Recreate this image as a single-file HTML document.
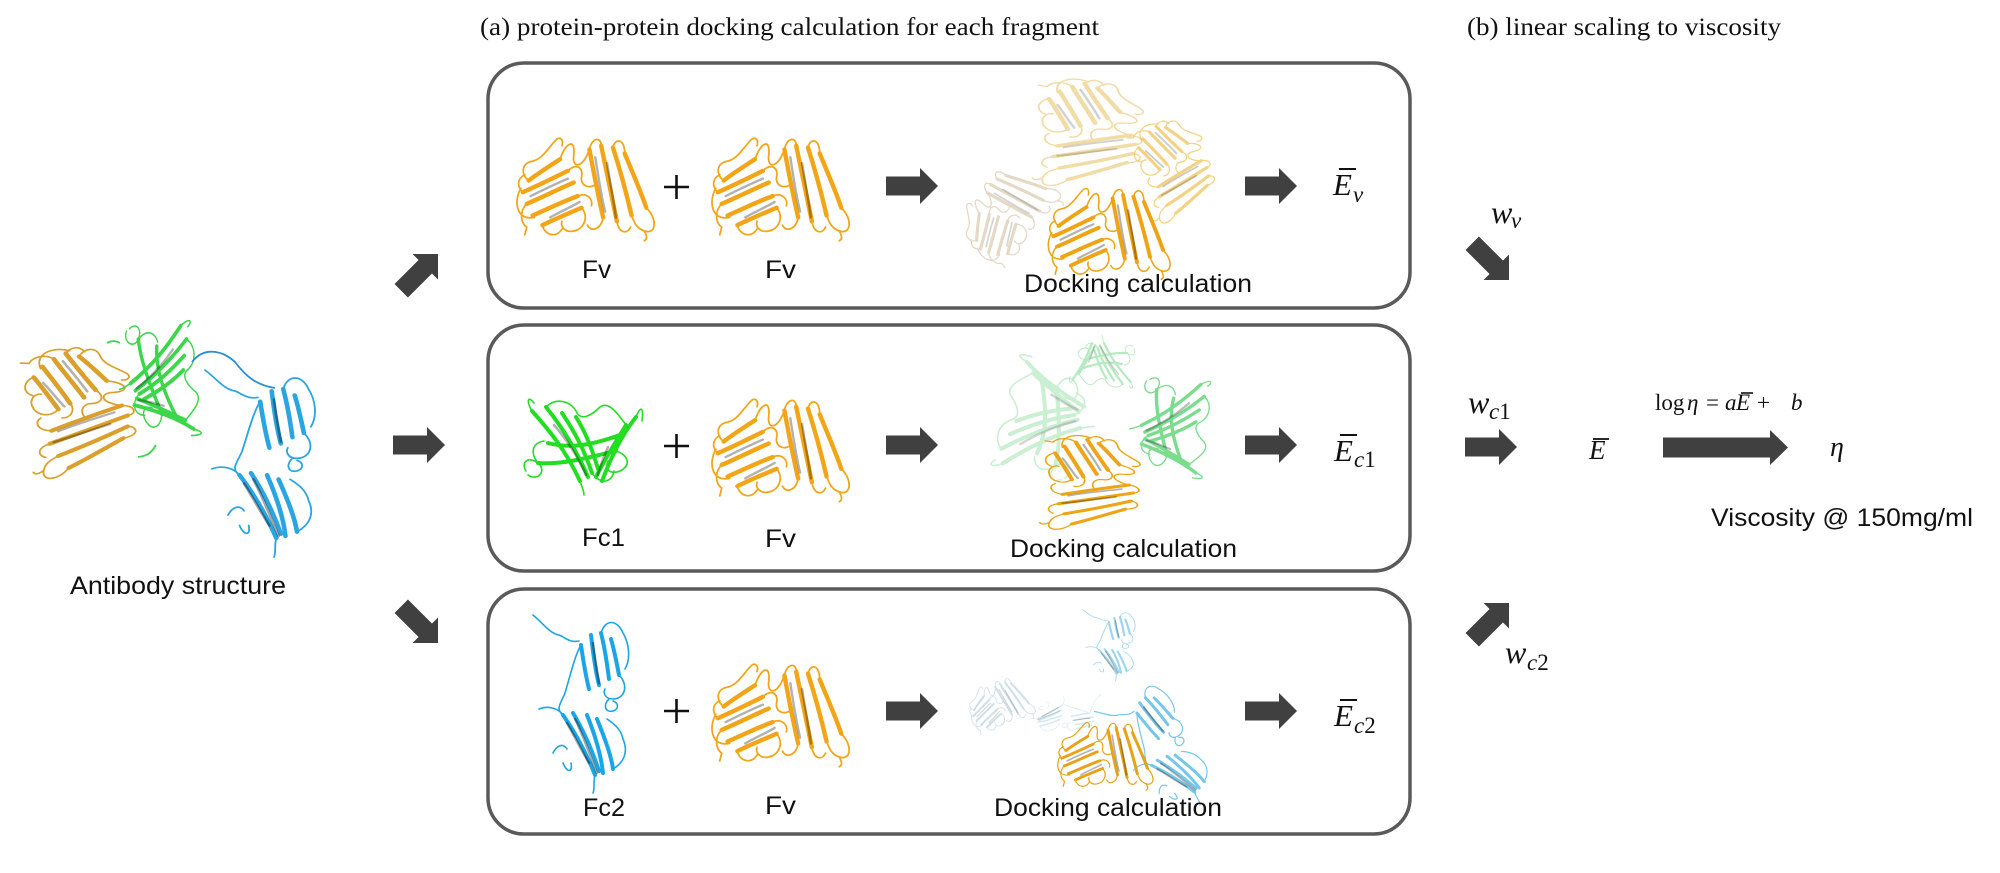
<!DOCTYPE html>
<html>
<head>
<meta charset="utf-8">
<style>
  html,body{margin:0;padding:0;background:#fff;}
  svg{display:block;}
  .sans{font-family:"Liberation Sans",Arial,sans-serif;fill:#111;}
  .serif{font-family:"Liberation Serif","Times New Roman",serif;fill:#111;}
  .it{font-style:italic;}
</style>
</head>
<body>
<svg width="2000" height="873" viewBox="0 0 2000 873" xmlns="http://www.w3.org/2000/svg">
<defs>
  <path id="ar" d="M0,-9.5H34V-18L52,0L34,18V9.5H0Z"/>
  <!-- Fv fragment (150x110) -->
  <g id="fv" fill="none" stroke="currentColor" stroke-linecap="round" stroke-linejoin="round">
    <path stroke-width="4.5" d="M16,48 C26,40 36,34 48,26 M10,60 C24,54 40,46 56,38 M14,72 C28,66 44,58 62,50 M20,84 C34,78 50,70 66,64 M30,94 C42,88 56,82 70,76 M78,16 C82,38 86,60 92,86 M90,12 C95,36 100,60 106,90 M102,14 C109,36 115,58 121,84 M114,20 C122,40 130,58 136,76"/>
    <path stroke-width="1.8" d="M48,26 C54,8 64,4 62,22 C60,34 70,38 78,16 M8,56 C0,70 4,90 22,86 M16,48 C8,42 8,30 20,28 C30,26 36,14 44,6 C48,2 52,6 50,12 M30,94 C32,104 44,108 50,98 M70,76 C78,86 72,98 62,100 C54,102 48,96 50,90 M78,16 C80,4 90,2 90,12 M102,14 C104,4 114,4 114,20 M136,76 C148,88 146,104 134,100 C126,97 124,92 121,84 M106,90 C108,102 116,104 120,96 M92,86 C90,98 80,102 76,94 M134,100 C136,104 138,108 134,110 M56,38 C64,30 72,34 70,44 C68,54 80,58 86,50 M10,60 C4,54 4,46 12,42 M14,72 C6,80 8,92 14,96 L12,104 M66,64 C74,60 82,66 80,74"/>
    <path stroke="#000" stroke-opacity=".3" stroke-width="2.5" d="M18,64 C30,58 42,52 56,46 M96,30 C99,50 103,70 105,86 M38,86 C48,80 58,76 68,70 M84,24 C87,44 90,64 94,80"/>
  </g>
  <!-- Fc1 fragment (125x100) -->
  <g id="fc1" fill="none" stroke="currentColor" stroke-linecap="round" stroke-linejoin="round">
    <path stroke-width="4" d="M12,16 C30,36 46,56 60,86 M26,12 C42,32 56,54 68,82 M42,18 C54,36 64,54 72,78 M106,30 C96,46 86,62 76,82 M116,22 C102,40 92,60 82,86 M28,48 C50,54 72,50 100,40 M18,68 C44,70 70,62 96,56 M56,22 C66,38 72,54 78,74"/>
    <path stroke-width="1.6" d="M12,16 C6,6 8,0 14,8 M6,76 C0,66 10,60 20,70 C26,78 16,86 8,80 M60,86 C62,92 64,96 64,100 M116,22 C120,12 124,10 122,26 M26,12 C36,2 50,6 56,16 C60,26 70,22 80,12 C88,6 96,16 106,30 M72,78 C80,90 92,88 94,76 M96,56 C108,60 112,70 100,76 C90,80 84,74 88,66 M18,68 C10,58 12,48 24,46"/>
    <path stroke="#000" stroke-opacity=".3" stroke-width="2.5" d="M34,30 C48,46 58,62 66,80 M88,52 C84,62 80,70 78,80"/>
  </g>
  <!-- Fc2 fragment (100x180) -->
  <g id="fc2" fill="none" stroke="currentColor" stroke-linecap="round" stroke-linejoin="round">
    <path stroke-width="4" d="M48,32 C50,46 52,60 56,76 M58,22 C60,40 62,56 66,72 M68,20 C72,36 74,50 76,66 M78,26 C82,40 84,52 86,62 M30,102 C44,122 54,142 62,162 M40,100 C52,120 60,140 66,158 M54,102 C62,122 68,142 70,160 M64,106 C72,126 78,142 80,156"/>
    <path stroke-width="1.6" d="M0,2 C10,10 16,20 26,22 C32,24 36,30 46,28 M48,32 C42,42 38,60 32,80 C28,90 22,96 30,102 M6,96 C16,92 26,96 30,102 M86,62 C96,72 92,86 80,86 C72,86 70,80 72,76 M68,20 C72,6 84,6 90,20 C96,30 98,46 92,56 M76,86 C70,92 72,100 80,98 C86,96 86,90 80,88 M62,162 C60,170 62,176 60,180 M80,156 C90,150 96,140 90,126 C88,116 80,110 74,106 M30,150 C34,160 40,160 38,150 M20,140 C24,132 30,130 34,136"/>
    <path stroke="#000" stroke-opacity=".35" stroke-width="2.5" d="M42,106 C52,126 58,146 64,160 M60,30 C62,46 64,58 66,70 M34,110 C44,128 50,140 56,150"/>
  </g>
</defs>

<rect width="2000" height="873" fill="#fff"/>

<!-- Titles -->
<text class="serif" x="480" y="35" font-size="25" textLength="619" lengthAdjust="spacingAndGlyphs">(a) protein-protein docking calculation for each fragment</text>
<text class="serif" x="1467" y="35" font-size="25" textLength="314" lengthAdjust="spacingAndGlyphs">(b) linear scaling to viscosity</text>

<!-- Boxes -->
<g fill="none" stroke="#5a5a5a" stroke-width="3.5">
  <rect x="488" y="63" width="922" height="245" rx="36"/>
  <rect x="488" y="325" width="922" height="246" rx="36"/>
  <rect x="488" y="589" width="922" height="245" rx="36"/>
</g>

<!-- Antibody structure -->
<g>
  <use href="#fv" style="color:#DBA02C" transform="translate(81,410) rotate(80) scale(0.9,1.05) translate(-75,-55)"/>
  <use href="#fc1" style="color:#3CD64A" transform="translate(161,380) rotate(80) scale(1.0,0.85) translate(-62,-50)"/>
  <use href="#fc2" style="color:#2AA5E2" transform="translate(205,368) scale(1.15,1.05)"/>
  <path d="M107,343 C112,340 116,341 120,343 M156,445 C152,452 148,456 138,457" fill="none" stroke="#3CD64A" stroke-width="1.8"/>
  <path d="M192,362 C205,345 225,352 235,362 C245,375 255,385 275,388" fill="none" stroke="#2A8FD0" stroke-width="1.8"/>
</g>
<text class="sans" x="70" y="594" font-size="25" textLength="216" lengthAdjust="spacingAndGlyphs">Antibody structure</text>

<!-- Arrows -->
<g fill="#404040">
  <use href="#ar" transform="translate(438,254) rotate(-45) translate(-52,0)"/>
  <use href="#ar" transform="translate(393,445)"/>
  <use href="#ar" transform="translate(438,643) rotate(45) translate(-52,0)"/>
  <use href="#ar" transform="translate(886,186)"/>
  <use href="#ar" transform="translate(1245,186)"/>
  <use href="#ar" transform="translate(886,445)"/>
  <use href="#ar" transform="translate(1245,445)"/>
  <use href="#ar" transform="translate(886,711)"/>
  <use href="#ar" transform="translate(1245,711)"/>
  <use href="#ar" transform="translate(1509,280) rotate(45) translate(-52,0)"/>
  <use href="#ar" transform="translate(1465,447)"/>
  <use href="#ar" transform="translate(1509,603) rotate(-45) translate(-52,0)"/>
  <path d="M1663,437.5H1770V430L1788,447.5L1770,465V457.5H1663Z"/>
</g>

<!-- Row 1 -->
<use href="#fv" style="color:#F2A516" transform="translate(513,134) scale(0.98,0.97)"/>
<use href="#fv" style="color:#F2A516" transform="translate(708,134) scale(0.98,0.97)"/>
<!-- Row 2 -->
<use href="#fc1" style="color:#22DD22" transform="translate(520,395)"/>
<use href="#fv" style="color:#F2A516" transform="translate(708,395) scale(0.98,0.97)"/>
<!-- Row 3 -->
<use href="#fc2" style="color:#1BA5E5" transform="translate(533,613)"/>
<use href="#fv" style="color:#F2A516" transform="translate(708,660) scale(0.98,0.97)"/>

<!-- Plus signs -->
<g stroke="#111" stroke-width="2.6">
  <path d="M664,187H689M676.5,175V199"/>
  <path d="M664,446H689M676.5,434V458"/>
  <path d="M664,711H689M676.5,699V723"/>
</g>

<!-- Fragment labels -->
<g class="sans" font-size="25">
  <text x="582" y="278" textLength="29" lengthAdjust="spacingAndGlyphs">Fv</text>
  <text x="765" y="278" textLength="31" lengthAdjust="spacingAndGlyphs">Fv</text>
  <text x="582" y="546" textLength="43" lengthAdjust="spacingAndGlyphs">Fc1</text>
  <text x="765" y="547" textLength="31" lengthAdjust="spacingAndGlyphs">Fv</text>
  <text x="583" y="816" textLength="42" lengthAdjust="spacingAndGlyphs">Fc2</text>
  <text x="765" y="814" textLength="31" lengthAdjust="spacingAndGlyphs">Fv</text>
</g>

<!-- Docking images row 1 -->
<use href="#fv" style="color:#CDBB96" opacity=".55" transform="translate(1007,212) rotate(-50) scale(0.7) translate(-75,-55)"/>
<use href="#fv" style="color:#E9C66A" opacity=".6" transform="translate(1090,133) rotate(90) scale(0.76,1.05) translate(-75,-55)"/>
<use href="#fv" style="color:#F0C050" opacity=".7" transform="translate(1175,168) rotate(70) scale(0.7) translate(-75,-55)"/>
<use href="#fv" style="color:#EEA414" transform="translate(1110,232) scale(0.87,0.86) translate(-75,-55)"/>
<!-- Docking images row 2 -->
<use href="#fc1" style="color:#9FE3AE" opacity=".55" transform="translate(1045,420) rotate(-80) scale(1.0) translate(-62,-50)"/>
<use href="#fc1" style="color:#8FE0A0" opacity=".65" transform="translate(1103,363) rotate(180) scale(0.55) translate(-62,-50)"/>
<use href="#fc1" style="color:#6ED982" opacity=".9" transform="translate(1172,427) rotate(90) scale(0.85) translate(-62,-50)"/>
<use href="#fv" style="color:#EDA416" transform="translate(1092,483) rotate(90) scale(0.67,0.95) translate(-75,-55)"/>
<!-- Docking images row 3 -->
<use href="#fv" style="color:#A9C6D6" opacity=".55" transform="translate(1000,704) rotate(-20) scale(0.45) translate(-75,-55)"/>
<use href="#fc2" style="color:#BFE0EE" opacity=".65" transform="translate(1066,714) rotate(90) scale(0.4) translate(-50,-90)"/>
<use href="#fc2" style="color:#7CC8E8" opacity=".75" transform="translate(1110,645) scale(0.55,0.4) translate(-50,-90)"/>
<use href="#fc2" style="color:#5EBDE6" opacity=".85" transform="translate(1160,750) rotate(-30) scale(0.75) translate(-50,-90)"/>
<use href="#fv" style="color:#E8A21A" transform="translate(1106,755) scale(0.68,0.64) translate(-75,-55)"/>

<!-- Docking labels -->
<g class="sans" font-size="25">
  <text x="1024" y="292" textLength="228" lengthAdjust="spacingAndGlyphs">Docking calculation</text>
  <text x="1010" y="557" textLength="227" lengthAdjust="spacingAndGlyphs">Docking calculation</text>
  <text x="994" y="816" textLength="228" lengthAdjust="spacingAndGlyphs">Docking calculation</text>
</g>

<!-- Energies -->
<g class="serif it">
  <text x="1333" y="195" font-size="31">E</text>
  <text x="1353" y="202" font-size="23">v</text>
  <text x="1334" y="461" font-size="31">E</text>
  <text x="1354" y="467" font-size="23">c<tspan font-style="normal">1</tspan></text>
  <text x="1334" y="726" font-size="31">E</text>
  <text x="1354" y="733" font-size="23">c<tspan font-style="normal">2</tspan></text>
</g>
<g stroke="#111" stroke-width="2">
  <path d="M1339,169H1356M1340,435H1357M1340,700H1357"/>
</g>

<!-- Weights -->
<g class="serif it">
  <text x="1491" y="223" font-size="32">w</text>
  <text x="1511" y="228" font-size="23">v</text>
  <text x="1468" y="413" font-size="32">w</text>
  <text x="1489" y="419" font-size="23">c<tspan font-style="normal">1</tspan></text>
  <text x="1505" y="663" font-size="32">w</text>
  <text x="1527" y="670" font-size="23">c<tspan font-style="normal">2</tspan></text>
</g>

<!-- Right side -->
<g class="serif" font-size="23">
  <text x="1655" y="410">log</text>
  <text x="1687" y="410" class="it">η</text>
  <text x="1706" y="410">=</text>
  <text x="1725" y="410" class="it">a</text>
  <text x="1736" y="410" class="it">E</text>
  <text x="1757" y="410">+</text>
  <text x="1791" y="410" class="it">b</text>
</g>
<path d="M1741,393H1753" stroke="#111" stroke-width="1.6"/>
<text class="serif it" x="1589" y="459" font-size="27">E</text>
<path d="M1593,439H1609" stroke="#111" stroke-width="1.8"/>
<text class="serif it" x="1830" y="456" font-size="28">η</text>
<text class="sans" x="1711" y="526" font-size="25" textLength="262" lengthAdjust="spacingAndGlyphs">Viscosity @ 150mg/ml</text>
</svg>
</body>
</html>
